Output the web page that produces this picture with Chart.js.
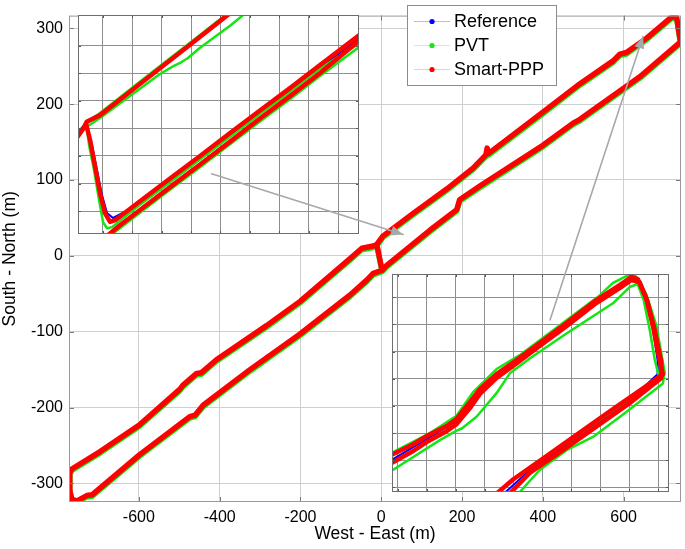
<!DOCTYPE html>
<html>
<head>
<meta charset="utf-8">
<script src="https://cdn.jsdelivr.net/npm/chart.js@4.4.1/dist/chart.umd.min.js"></script>
<style>
  html, body { margin: 0; padding: 0; background: #fff; }
  #wrap { position: relative; width: 685px; height: 549px; }
  #wrap canvas { position: absolute; }
  #inset1, #inset2 { background: #fff; }
  #arrows { pointer-events: none; }
</style>
</head>
<body>
<div id="wrap">
  <canvas id="main" width="685" height="549" style="left:0;top:0"></canvas>
  <canvas id="inset1" width="281" height="219" style="left:78px;top:15px"></canvas>
  <canvas id="inset2" width="277" height="218" style="left:392px;top:274px"></canvas>
  <canvas id="arrows" width="685" height="549" style="left:0;top:0"></canvas>
</div>
<script>
// ---------- data ----------
const seriesNames = ['Reference', 'PVT', 'Smart-PPP'];
const xTicks = [-600, -400, -200, 0, 200, 400, 600];
const yTicks = [-300, -200, -100, 0, 100, 200, 300];

// whole loop (m), one sample list shared by the three solutions
const mainX = [-11, 4, 79, 162, 228, 259, 262, 266, 409, 492,
  574, 591, 607, 657, 719, 731, 739, 741, 640, 492,
  475, 401, 244, 194, 187, 121, 13, 2, -20, -36,
  -78, -201, -325, -441, -461, -474, -598, -716, -729, -753,
  -766, -771, -771, -766, -696, -599, -499, -490, -457, -445,
  -408, -284, -201, -78, -48, -20, -11, 2];
const refY = [15, 26, 56, 88, 116, 133, 134, 135, 193, 227,
  257, 266, 268, 287, 315, 315, 288, 282, 236, 180,
  175, 146, 92, 74, 61, 34, -13, -19, -23, -32,
  -52, -103, -150, -197, -210, -212, -262, -315, -316, -323,
  -321, -309, -286, -281, -258, -223, -176, -170, -155, -154,
  -137, -92, -60, -4, 10, 13, 15, -19];
const pvtY = [13, 24, 54, 86, 114, 131, 132, 133, 191, 225,
  255, 264, 266, 285, 313, 313, 286, 280, 234, 178,
  173, 144, 90, 72, 59, 32, -15, -21, -25, -34,
  -54, -105, -152, -199, -212, -214, -264, -317, -318, -324,
  -323, -311, -288, -283, -260, -225, -178, -172, -157, -156,
  -139, -94, -62, -6, 8, 11, 13, -21];
const pppY = [15, 26, 56, 88, 116, 133, 142, 135, 193, 227,
  257, 266, 268, 287, 315, 315, 288, 282, 236, 180,
  175, 146, 92, 74, 61, 34, -13, -19, -23, -32,
  -52, -103, -150, -197, -210, -212, -262, -315, -316, -323,
  -321, -309, -286, -281, -258, -223, -176, -170, -155, -154,
  -137, -92, -60, -4, 10, 13, 15, -19];

// inset 1 : zoom on the jump near x = 0
const in1GridX = [0, 20, 40, 60, 80, 100, 120, 140, 160];
const in1GridY = [-20, -10, 0, 10, 20, 30, 40];
const in1RefAX = [-17.5, -11.3, -7.3, -3.9, -0.5, 2.9, 7.0, 25.3, 45.7, 66.1, 86.5, 106.8, 127.2, 147.6, 175];
const in1RefAY = [6.8, 11.9, 4.0, -5.1, -14.2, -20.7, -22.5, -17.4, -9.2, -1.1, 7.2, 15.4, 23.5, 31.9, 43.0];
const in1RefBX = [-11.3, -1.8, 18.5, 38.9, 59.3, 84.4];
const in1RefBY = [11.9, 14.7, 23.2, 31.7, 40.3, 51.5];
const in1PvtAX = [-17.5, -11.3, -9.3, -5.9, -2.5, 0.2, 2.9, 6.3, 25.3, 45.7, 66.1, 86.5, 106.8, 127.2, 147.6, 175];
const in1PvtAY = [8.2, 11.9, 4.0, -5.1, -16.0, -24.0, -26.2, -25.8, -17.7, -9.5, -1.3, 7.0, 15.2, 23.3, 31.7, 41.1];
const in1PvtBX = [-12.0, -1.8, 18.5, 38.9, 47.7, 52.5, 57.9, 66.1, 76.3, 86.5, 97.5];
const in1PvtBY = [10.1, 13.8, 21.7, 29.7, 32.5, 33.7, 35.5, 39.2, 43.2, 47.2, 52.0];
const in1PvtCX = [-11.3, -1.8, 18.5, 38.9, 59.3, 85.6];
const in1PvtCY = [11.9, 15.6, 24.1, 32.6, 41.0, 52.0];
const in1PvtDX = [3.5, 11.7, 25.3, 45.7, 66.1, 86.5, 106.8, 127.2, 147.6, 175];
const in1PvtDY = [-29.5, -26.2, -20.6, -12.3, -4.1, 4.2, 12.5, 20.6, 29.0, 39.8];
const in1PppAX = [-17.5, -12.7, -11.3, -8.6, -5.2, -1.8, 1.6, 5.0, 8.4, 25.3, 45.7, 66.1, 86.5, 106.8, 127.2, 147.6, 175];
const in1PppAY = [7.0, 10.5, 11.6, 5.8, -3.9, -13.6, -20.8, -23.9, -23.3, -16.4, -8.2, 0.0, 8.3, 16.5, 24.6, 33.0, 44.1];
const in1PppBX = [-17.5, -12.7, -10.9, -1.8, 18.5, 38.9, 59.3, 85.8];
const in1PppBY = [6.6, 10.3, 12.4, 14.8, 23.3, 31.8, 40.3, 51.5];
const in1PppCX = [1.8, 11.7, 25.3, 45.7, 66.1, 86.5, 106.8, 127.2, 147.6, 175];
const in1PppCY = [-29.5, -25.1, -19.6, -11.3, -3.1, 5.2, 13.6, 21.7, 30.1, 42.1];

// inset 2 : zoom on the north-east turn
const in2GridX = [560, 580, 600, 620, 640, 660, 680, 700, 720, 740];
const in2GridY = [240, 250, 260, 270, 280, 290, 300, 310];
const in2RefX = [555.5, 580, 600.7, 616.8, 639.7, 676.6, 713.3, 721.6, 727.1, 735.4, 739.5, 739.5, 720.2, 685.7, 651.2, 633.5];
const in2RefY = [250.0, 257.8, 264.4, 275.5, 285.4, 299.9, 314, 316.7, 315.6, 301.6, 286.9, 281.7, 272.0, 259.2, 246.3, 237.8];
const in2PvtAX = [555.5, 582.3, 600.7, 612.1, 628.3, 644.3, 676.6, 699.5, 708.7, 718, 724.4, 731.7, 738.6, 742.3, 744.4, 743.2, 717.9, 694.9, 676.6, 658.1, 643.5];
const in2PvtAY = [252.6, 260, 266.4, 275.1, 283.6, 288.7, 301.6, 310.7, 315.3, 317.8, 317.8, 311.2, 299.8, 288.7, 282.5, 278.3, 267.8, 258.6, 253.7, 246.4, 237.8];
const in2PvtBX = [555.5, 570.8, 589.2, 600.7, 604.3, 614.5, 628.3, 637.5, 651.2, 676.6, 708.7, 720.2, 725.7, 729.9, 734.1, 737.6, 741.1, 727.3, 699.6, 676.6, 651.2, 627.5];
const in2PvtBY = [246.0, 251.2, 257.4, 260.9, 261.7, 266, 274.7, 282, 287.5, 296.7, 307.8, 313.8, 314.9, 309, 298, 286.9, 279.5, 275.1, 264.8, 256.3, 247.5, 237.8];
const in2PppAX = [555.5, 570.8, 580.0, 593.8, 600.7, 609.9, 616.8, 628.3, 639.7, 658.1, 676.6, 697.2, 713.3, 721.4, 725.9, 731.7, 736.3, 740.9, 743.2, 731.7, 708.7, 685.7, 662.8, 639.7, 628.5];
const in2PppAY = [251.9, 255.9, 258.9, 262.6, 265.2, 271.4, 276.2, 281.7, 286.0, 293.2, 300.5, 309.0, 314.5, 317.5, 316.7, 309.7, 299.4, 286.9, 281.7, 277.3, 268.8, 260.2, 251.5, 242.9, 237.8];
const in2PppBX = [555.5, 570.8, 580.0, 593.8, 600.7, 609.9, 616.8, 628.3, 639.7, 658.1, 676.6, 697.2, 713.3, 721.4, 727.1, 732.6, 737.5, 742.1, 742.1, 720.2, 697.2, 674.2, 651.2, 637.5];
const in2PppBY = [248.9, 253.4, 256.7, 260.7, 263.3, 269.2, 274.4, 280.3, 284.7, 292.1, 299.4, 307.9, 313.4, 316.4, 315.6, 308.3, 298.0, 286.2, 280.3, 271.0, 262.4, 253.7, 245.3, 237.8];

// arrows, in main-axis metres
const arrow1X = [-420, 54];
const arrow1Y = [98, 20];
const arrow2X = [418, 648];
const arrow2Y = [-90, 275];

// ---------- styles ----------
const BLUE = '#0000ff';
const GREEN = '#14e614';
const RED = '#ff0000';
const PALE = ['#b8b8ff', '#b8ffb8', '#ffc4c4'];
const FONT = '"Liberation Sans", Arial, Helvetica, sans-serif';

Chart.defaults.font.family = FONT;
Chart.defaults.color = '#000';

const pts = (xs, ys) => xs.map((x, i) => ({ x: x, y: ys[i] }));

// chart.js paints higher "order" first, so red (order 1) ends up on top like in matlab
function track(xs, ys, color, width, order, label) {
  return {
    label: label,
    data: pts(xs, ys),
    showLine: true,
    order: order,
    borderColor: color,
    backgroundColor: color,
    borderWidth: width,
    pointRadius: 0,
    borderJoinStyle: 'round',
    borderCapStyle: 'round'
  };
}

// box round the axes plus short inner ticks (matlab style)
const framePlugin = {
  id: 'frame',
  afterDraw(chart, args, o) {
    const { ctx, chartArea: a } = chart;
    const sx = chart.scales.x, sy = chart.scales.y;
    ctx.save();
    ctx.lineWidth = 1;
    ctx.strokeStyle = o.tickColor;
    ctx.beginPath();
    sx.ticks.forEach(t => {
      const p = Math.round(sx.getPixelForValue(t.value)) + 0.5;
      ctx.moveTo(p, a.top); ctx.lineTo(p, a.top + o.tick);
      ctx.moveTo(p, a.bottom); ctx.lineTo(p, a.bottom - o.tick);
    });
    sy.ticks.forEach(t => {
      const p = Math.round(sy.getPixelForValue(t.value)) + 0.5;
      ctx.moveTo(a.left, p); ctx.lineTo(a.left + o.tick, p);
      ctx.moveTo(a.right, p); ctx.lineTo(a.right - o.tick, p);
    });
    ctx.stroke();
    ctx.strokeStyle = o.color;
    ctx.strokeRect(a.left + 0.5, a.top + 0.5, a.right - a.left - 1, a.bottom - a.top - 1);
    ctx.restore();
  }
};

// legend box in the upper part of the plot
const legendPlugin = {
  id: 'boxLegend',
  afterDraw(chart, args, o) {
    const ctx = chart.ctx;
    ctx.save();
    ctx.fillStyle = '#fff';
    ctx.fillRect(o.left, o.top, o.width, o.height);
    ctx.strokeStyle = '#8c8c8c';
    ctx.lineWidth = 1;
    ctx.strokeRect(o.left + 0.5, o.top + 0.5, o.width, o.height);
    ctx.font = '18px ' + FONT;
    ctx.textBaseline = 'middle';
    chart.data.datasets.forEach((ds, i) => {
      const yy = o.top + 16 + i * 24;
      ctx.strokeStyle = PALE[i];
      ctx.beginPath(); ctx.moveTo(o.left + 7, yy + 0.5); ctx.lineTo(o.left + 43, yy + 0.5); ctx.stroke();
      ctx.fillStyle = ds.borderColor;
      ctx.beginPath(); ctx.arc(o.left + 25, yy + 0.5, 2.6, 0, Math.PI * 2); ctx.fill();
      ctx.fillStyle = '#000';
      ctx.fillText(ds.label, o.left + 47, yy + 1);
    });
    ctx.restore();
  }
};

// main plot
new Chart(document.getElementById('main'), {
  type: 'scatter',
  data: {
    datasets: [
      track(mainX, refY, BLUE, 3, 3, seriesNames[0]),
      track(mainX, pvtY, GREEN, 5.5, 2, seriesNames[1]),
      track(mainX, pppY, RED, 5.5, 1, seriesNames[2])
    ]
  },
  options: {
    responsive: false,
    animation: false,
    devicePixelRatio: 1,
    layout: { padding: { left: 0, right: 4, top: 4, bottom: 0 } },
    plugins: {
      legend: { display: false },
      tooltip: { enabled: false },
      frame: { color: '#9a9a9a', tickColor: '#7a7a7a', tick: 5 },
      boxLegend: { left: 407, top: 5, width: 149, height: 80 }
    },
    scales: {
      x: {
        type: 'linear', min: -773, max: 742,
        afterFit: s => { s.height = 47; },
        afterBuildTicks: s => { s.ticks = xTicks.map(v => ({ value: v })); },
        grid: { color: '#cfcfcf', drawTicks: false },
        border: { display: false },
        ticks: { padding: 6, color: '#000', font: { size: 16 } },
        title: { display: true, text: 'West - East (m)', color: '#000', font: { size: 17.5 }, padding: { top: 0, bottom: 4 } }
      },
      y: {
        type: 'linear', min: -324.5, max: 316.7,
        afterFit: s => { s.width = 69; },
        afterBuildTicks: s => { s.ticks = yTicks.map(v => ({ value: v })); },
        grid: { color: '#cfcfcf', drawTicks: false },
        border: { display: false },
        ticks: { padding: 6, color: '#000', font: { size: 16 } },
        title: { display: true, text: 'South - North (m)', color: '#000', font: { size: 17.5 }, padding: { top: 0, bottom: 0 } }
      }
    }
  },
  plugins: [framePlugin, legendPlugin]
});

// zoomed insets
function makeInset(id, lim, gridX, gridY, datasets) {
  return new Chart(document.getElementById(id), {
    type: 'scatter',
    data: { datasets: datasets },
    options: {
      responsive: false,
      animation: false,
      devicePixelRatio: 1,
      layout: { padding: 0 },
      plugins: {
        legend: { display: false },
        tooltip: { enabled: false },
        frame: { color: '#6e6e6e', tickColor: '#555', tick: 3 }
      },
      scales: {
        x: {
          type: 'linear', min: lim[0], max: lim[1],
          afterFit: s => { s.height = 0; },
          afterBuildTicks: s => { s.ticks = gridX.map(v => ({ value: v })); },
          ticks: { display: false },
          grid: { color: '#8e8e8e', drawTicks: false },
          border: { display: false }
        },
        y: {
          type: 'linear', min: lim[2], max: lim[3],
          afterFit: s => { s.width = 0; },
          afterBuildTicks: s => { s.ticks = gridY.map(v => ({ value: v })); },
          ticks: { display: false },
          grid: { color: '#8e8e8e', drawTicks: false },
          border: { display: false }
        }
      }
    },
    plugins: [framePlugin]
  });
}

makeInset('inset1', [-16.8, 174.1, -28.3, 51.1], in1GridX, in1GridY, [
  track(in1RefAX, in1RefAY, BLUE, 2, 3),
  track(in1RefBX, in1RefBY, BLUE, 2, 3),
  track(in1PvtAX, in1PvtAY, GREEN, 2.5, 2),
  track(in1PvtBX, in1PvtBY, GREEN, 2.5, 2),
  track(in1PvtCX, in1PvtCY, GREEN, 2.5, 2),
  track(in1PvtDX, in1PvtDY, GREEN, 2.5, 2),
  track(in1PppAX, in1PppAY, RED, 4.5, 1),
  track(in1PppBX, in1PppBY, RED, 4.5, 1),
  track(in1PppCX, in1PppCY, RED, 4.5, 1)
]);

makeInset('inset2', [556.1, 747.4, 238.3, 318.6], in2GridX, in2GridY, [
  track(in2RefX, in2RefY, BLUE, 2, 3),
  track(in2PvtAX, in2PvtAY, GREEN, 2.5, 2),
  track(in2PvtBX, in2PvtBY, GREEN, 2.5, 2),
  track(in2PppAX, in2PppAY, RED, 4.5, 1),
  track(in2PppBX, in2PppBY, RED, 4.5, 1)
]);

// grey arrows from the insets to the zoomed spots, drawn on top
const arrowHeads = {
  id: 'arrowHeads',
  afterDatasetsDraw(chart) {
    const ctx = chart.ctx;
    chart.data.datasets.forEach((ds, i) => {
      const el = chart.getDatasetMeta(i).data;
      const a = el[el.length - 2], b = el[el.length - 1];
      const ang = Math.atan2(b.y - a.y, b.x - a.x);
      ctx.save();
      ctx.translate(b.x, b.y);
      ctx.rotate(ang);
      ctx.fillStyle = ds.borderColor;
      ctx.beginPath();
      ctx.moveTo(0, 0); ctx.lineTo(-12, -5); ctx.lineTo(-12, 5);
      ctx.closePath();
      ctx.fill();
      ctx.restore();
    });
  }
};

new Chart(document.getElementById('arrows'), {
  type: 'scatter',
  data: {
    datasets: [
      track(arrow1X, arrow1Y, '#a8a8a8', 1.6, 1),
      track(arrow2X, arrow2Y, '#a8a8a8', 1.6, 1)
    ]
  },
  options: {
    responsive: false,
    animation: false,
    devicePixelRatio: 1,
    layout: { padding: { left: 69, right: 4, top: 4, bottom: 47 } },
    plugins: { legend: { display: false }, tooltip: { enabled: false } },
    scales: {
      x: { type: 'linear', display: false, min: -773, max: 742 },
      y: { type: 'linear', display: false, min: -324.5, max: 316.7 }
    }
  },
  plugins: [arrowHeads]
});
</script>
</body>
</html>
